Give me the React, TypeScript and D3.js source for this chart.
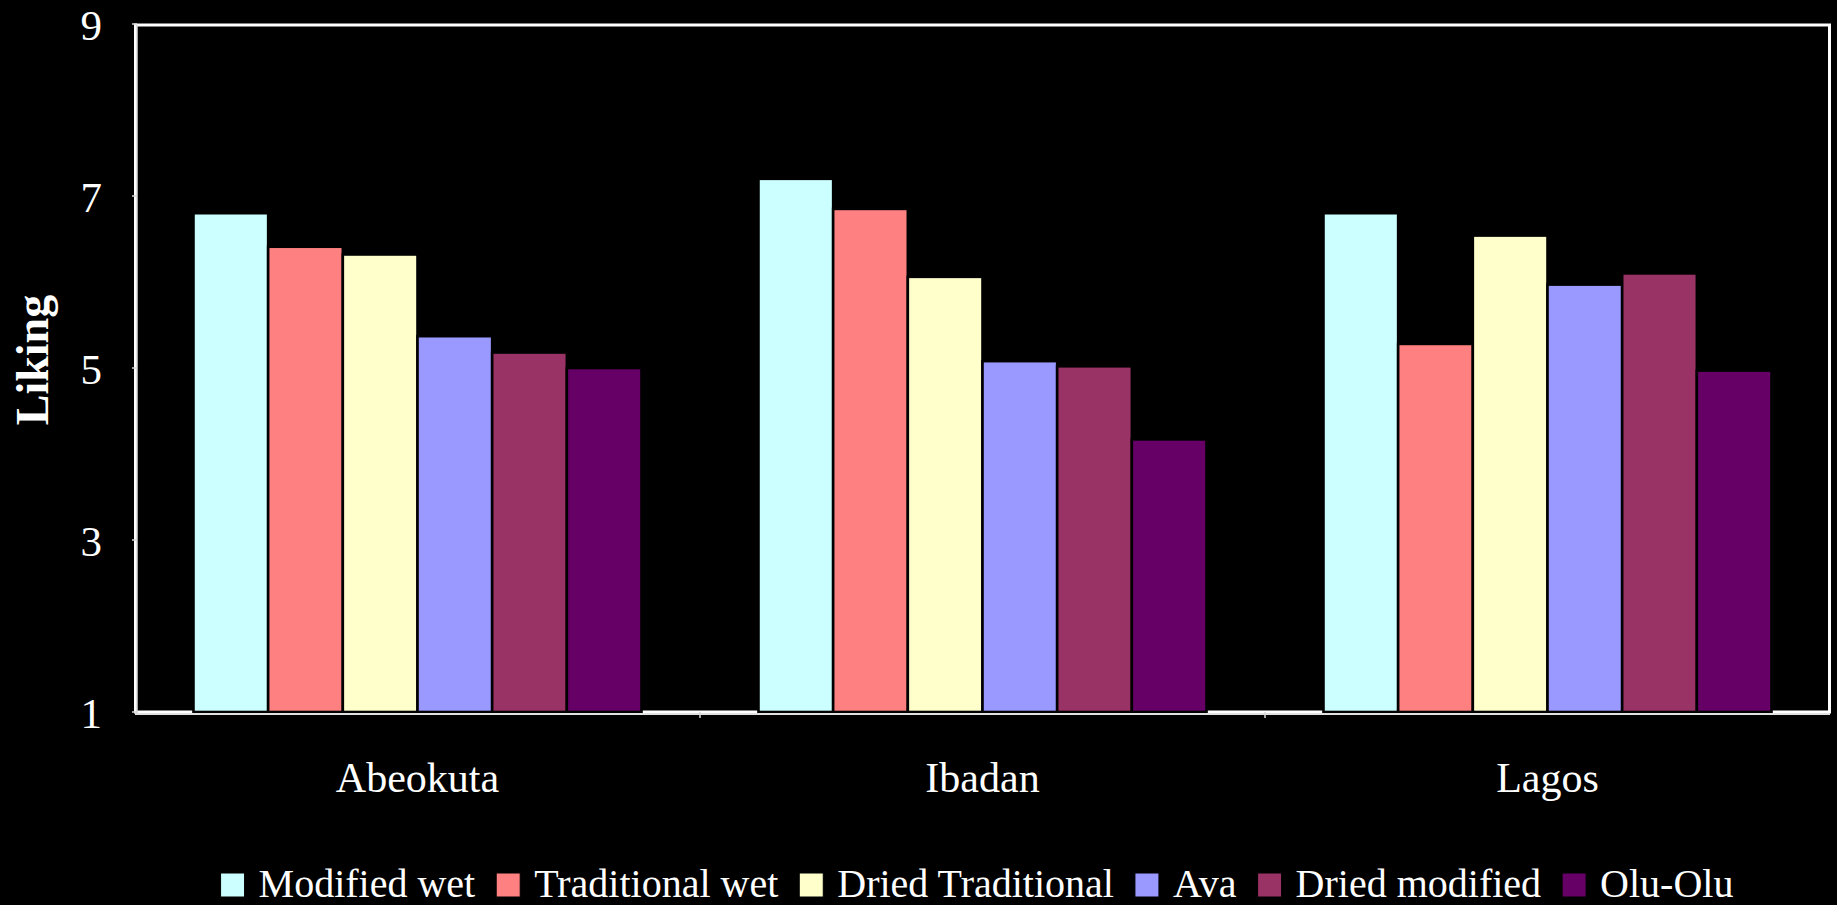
import React, { useEffect, useRef } from "react";
import * as d3 from "d3";

// Cities on the x axis
const cities = ["Abeokuta", "Ibadan", "Lagos"];

// Product types (legend order) and their fills
const products = [
  "Modified wet",
  "Traditional wet",
  "Dried Traditional",
  "Ava",
  "Dried modified",
  "Olu-Olu",
];
const productColors = ["#CCFFFF", "#FF8080", "#FFFFCC", "#9999FF", "#993366", "#660066"];

// Mean liking score per product, in city order
const modifiedWet = [6.8, 7.2, 6.8];
const traditionalWet = [6.41, 6.85, 5.28];
const driedTraditional = [6.32, 6.06, 6.54];
const ava = [5.37, 5.08, 5.97];
const driedModified = [5.18, 5.02, 6.1];
const oluOlu = [5.0, 4.17, 4.97];

const seriesValues = [modifiedWet, traditionalWet, driedTraditional, ava, driedModified, oluOlu];

const yTicks = [1, 3, 5, 7, 9];
const yLabel = "Liking";

const W = 1837;
const H = 905;
const FONT = "'Liberation Serif', 'Times New Roman', serif";

export default function App() {
  const ref = useRef<SVGSVGElement | null>(null);

  useEffect(() => {
    document.body.style.margin = "0";
    document.body.style.background = "#000";
    const svg = d3.select(ref.current);
    svg.selectAll("*").remove();

    const left = 135;
    const right = 1830;
    const top = 24;
    const bottom = 712;

    svg.append("rect").attr("width", W).attr("height", H).attr("fill", "#000");

    const x = d3.scaleBand<string>().domain(cities).range([left, right]).padding(0);
    const groupPad = x.bandwidth() * 0.1035;
    const xs = d3
      .scaleBand<string>()
      .domain(products)
      .range([groupPad, x.bandwidth() - groupPad])
      .padding(0);
    const y = d3.scaleLinear().domain([1, 9]).range([bottom, top]);

    // plot-area frame
    svg
      .append("rect")
      .attr("x", left + 0.5)
      .attr("y", top + 1)
      .attr("width", right - left - 1)
      .attr("height", bottom - top - 1)
      .attr("fill", "none")
      .attr("stroke", "#fff")
      .attr("stroke-width", 3);

    // bars
    const g = svg.append("g");
    products.forEach((p, si) => {
      g.selectAll(null)
        .data(seriesValues[si])
        .enter()
        .append("rect")
        .attr("x", (_d, ci) => (x(cities[ci]) as number) + (xs(p) as number))
        .attr("y", (d) => y(d))
        .attr("width", xs.bandwidth())
        .attr("height", (d) => y(1) - y(d))
        .attr("fill", productColors[si])
        .attr("stroke", "#000")
        .attr("stroke-width", 2.6);
    });

    // axes lines
    svg
      .append("line")
      .attr("x1", left + 2)
      .attr("x2", left + 2)
      .attr("y1", top + 1)
      .attr("y2", bottom + 2)
      .attr("stroke", "#d8d8d8")
      .attr("stroke-width", 1.5);
    svg
      .append("line")
      .attr("x1", left)
      .attr("x2", right)
      .attr("y1", bottom + 2)
      .attr("y2", bottom + 2)
      .attr("stroke", "#e0e0e0")
      .attr("stroke-width", 2);

    // y ticks and labels
    yTicks.forEach((t) => {
      svg
        .append("line")
        .attr("x1", left - 3)
        .attr("x2", left + 2)
        .attr("y1", y(t))
        .attr("y2", y(t))
        .attr("stroke", "#d8d8d8")
        .attr("stroke-width", 1.5);
      svg
        .append("text")
        .attr("x", 102)
        .attr("y", y(t))
        .attr("dy", "0.37em")
        .attr("text-anchor", "end")
        .attr("fill", "#fff")
        .attr("font-family", FONT)
        .attr("font-size", 43)
        .text(String(t));
    });

    // category ticks and labels
    cities.slice(1).forEach((c) => {
      const cx = x(c) as number;
      svg
        .append("line")
        .attr("x1", cx)
        .attr("x2", cx)
        .attr("y1", bottom)
        .attr("y2", bottom + 6)
        .attr("stroke", "#d8d8d8")
        .attr("stroke-width", 1.5);
    });
    cities.forEach((c) => {
      svg
        .append("text")
        .attr("x", (x(c) as number) + x.bandwidth() / 2)
        .attr("y", 792)
        .attr("text-anchor", "middle")
        .attr("fill", "#fff")
        .attr("font-family", FONT)
        .attr("font-size", 42)
        .text(c);
    });

    // y-axis title
    svg
      .append("text")
      .attr("transform", "translate(48,360) rotate(-90)")
      .attr("text-anchor", "middle")
      .attr("fill", "#fff")
      .attr("font-family", FONT)
      .attr("font-weight", "bold")
      .attr("font-size", 46)
      .text(yLabel);

    // legend, laid out from measured text widths
    const lg = svg.append("g");
    const sq = 24;
    const gapText = 14;
    const gapItem = 21;
    let cursor = 0;
    products.forEach((p, i) => {
      lg.append("rect")
        .attr("x", cursor)
        .attr("y", 873)
        .attr("width", sq)
        .attr("height", sq)
        .attr("fill", productColors[i])
        .attr("stroke", "#000")
        .attr("stroke-width", 1);
      cursor += sq + gapText;
      const t = lg
        .append("text")
        .attr("x", cursor)
        .attr("y", 897)
        .attr("fill", "#fff")
        .attr("font-family", FONT)
        .attr("font-size", 40)
        .text(p);
      const w = (t.node() as SVGTextElement).getComputedTextLength();
      cursor += w + gapItem;
    });
    const total = cursor - gapItem;
    lg.attr("transform", `translate(${977 - total / 2},0)`);
  }, []);

  return (
    <svg
      ref={ref}
      width={W}
      height={H}
      style={{ position: "absolute", left: 0, top: 0, display: "block" }}
    />
  );
}
